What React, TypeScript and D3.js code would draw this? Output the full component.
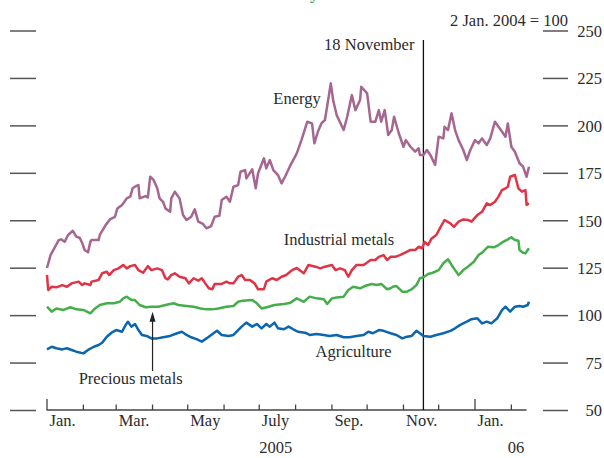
import React from "react";
import * as d3 from "d3";

// Data: [days since 1 Jan 2005, index (2 Jan 2004 = 100)]
const energy: [number, number][] = [
  [0,125.1],[3,131.9],[10,139.8],[12,140.2],[15,138.9],[18,142.5],[22,144.7],[25,141.6],[28,140.9],[30,138.3],[32,134.6],[35,133.4],[37,139],[38,139.8],[44,139.8],[45,142.5],[50,147.7],[54,150.9],[58,152.1],[60,156.5],[64,158.3],[66,160],[68,161.8],[71,162.7],[73,167.1],[76,168.3],[78,168.8],[79,161.8],[84,163],[86,162.3],[88,173.2],[91,171.4],[94,167.1],[96,161.8],[99,160],[101,156.5],[105,154.7],[106,161.8],[109,165.3],[113,161.8],[116,153],[119,150.4],[123,152.1],[126,156],[129,149.5],[133,148.3],[136,146],[140,147.2],[143,152.1],[147,152.6],[149,160.9],[153,162.6],[156,160],[159,167.9],[163,168.8],[165,175.8],[169,176.7],[170,172.3],[175,177.1],[178,167.1],[180,175],[185,182.9],[187,177.6],[190,182],[193,176.7],[197,174.1],[200,169.7],[203,173.2],[207,178.5],[213,185.5],[217,192.5],[222,202.2],[226,201.3],[228,190.8],[231,196.9],[234,201.3],[237,203.1],[240,214.5],[242,222.4],[244,213.6],[247,205.7],[253,197.8],[256,204.8],[260,216.2],[263,208.3],[267,213.6],[268,220.6],[273,217.1],[276,202.2],[280,202.2],[283,208.3],[285,202.2],[288,208.3],[291,195.2],[294,197.8],[296,204.8],[300,196.1],[304,189],[306,192.5],[310,189],[314,186.4],[317,188.2],[318,184.6],[321,184.6],[324,187.3],[327,184.6],[331,179.4],[334,194.3],[338,193.4],[339,199.5],[342,197.8],[345,206.6],[348,197.8],[351,192.5],[355,187.3],[358,182],[361,187.3],[365,192.5],[368,190.8],[371,193.4],[375,189.9],[378,193.4],[382,202.2],[386,198.7],[391,194.3],[393,201.3],[396,189],[399,186.4],[403,180.3],[406,178.5],[409,173.2],[411,178.5],
];

const industrialMetals: [number, number][] = [
  [0,121.5],[1,113.5],[4,115.2],[8,114.9],[13,116.1],[17,115.2],[21,117],[27,117.9],[30,116.1],[32,117],[37,116.1],[38,117.9],[44,118.8],[47,122.3],[51,123.1],[53,121.4],[57,124],[61,124.9],[65,126.7],[68,124.9],[71,126.1],[75,126.7],[78,124],[82,122.6],[86,126.1],[89,124],[94,124.9],[98,124],[101,119.7],[103,119.1],[106,121.4],[109,122.3],[113,120.5],[118,119.7],[121,117],[125,119.7],[129,118.4],[132,119.7],[135,117],[138,114.4],[141,113.9],[143,116.7],[149,116.7],[153,117.9],[156,117],[159,117],[163,120.5],[166,121.4],[169,118.8],[173,118.8],[177,117],[180,113.9],[185,113.9],[187,117.9],[192,119.7],[196,118.8],[200,120.5],[204,121.4],[209,124],[213,125.1],[219,122.3],[223,126.7],[229,125.8],[233,124.9],[237,125.8],[243,126.7],[246,124],[250,124.9],[254,124],[257,120.5],[260,124],[264,126.7],[270,126.7],[276,129.3],[280,129.3],[283,131],[287,131.9],[290,129.3],[293,131],[297,131],[301,131.9],[305,133.1],[310,134.6],[314,134.6],[317,136.3],[320,135.5],[322,138.9],[325,137.2],[328,140.7],[332,142.5],[335,146],[339,150.4],[344,148.6],[347,146.8],[351,149.5],[355,150.7],[359,150.4],[362,149.5],[367,153],[371,154.7],[375,159.2],[378,158.3],[382,160],[385,162.7],[388,166.2],[391,167.1],[393,167.9],[395,173.2],[399,174.1],[402,167.1],[405,165.3],[408,166.2],[409,158.3],[411,159.2],
];

const preciousMetals: [number, number][] = [
  [0,104.7],[4,102.1],[8,103.8],[14,103],[20,104.4],[25,103.3],[31,103],[37,101.2],[41,103.8],[45,105.6],[51,106.5],[57,106.5],[62,107.3],[65,109.1],[68,110],[72,108.2],[75,108.2],[79,105.6],[84,104.4],[89,104.7],[95,104.7],[101,105.6],[108,106.5],[112,105.6],[119,105.1],[125,104.7],[131,103.8],[136,103.3],[141,103.3],[146,103.8],[153,104.7],[159,105.1],[163,107.3],[167,107.9],[175,108.2],[179,106.5],[183,103.8],[189,104.7],[194,105.6],[202,106.1],[207,106.6],[213,109.1],[219,107.3],[224,110],[230,109.1],[236,108.6],[239,106.1],[243,109.1],[247,109.6],[253,110],[257,113.5],[261,115.2],[267,114.4],[271,115.6],[277,116.7],[281,116.1],[285,116.7],[290,113.9],[293,114.4],[295,115.2],[298,115.6],[303,112.6],[307,112.6],[311,113.9],[315,116.1],[318,119.7],[321,120.2],[325,121.9],[329,122.6],[334,124],[338,127.6],[342,129.7],[345,126.7],[348,124],[351,121.4],[355,124],[359,125.8],[364,128.4],[368,131.9],[372,133.7],[376,136.3],[381,136],[385,137.2],[389,138.9],[393,140.2],[396,141.3],[399,139.8],[402,139.5],[403,134.6],[406,133.1],[408,132.8],[411,135.5],
];

const agriculture: [number, number][] = [
  [0,82.2],[4,83.6],[8,82.8],[13,82.2],[17,82.8],[21,81.9],[25,81],[31,80.1],[35,81.9],[40,83.6],[44,84.5],[47,85.7],[51,88.9],[55,91],[59,92.4],[64,91.5],[67,95],[69,96.8],[72,94.2],[75,95.6],[78,92.4],[81,89.8],[85,89.3],[89,88],[94,88],[99,88.6],[105,89.3],[111,90.7],[115,91.5],[119,89.8],[123,88.6],[128,87.5],[132,86.3],[136,88],[142,90.7],[145,92],[149,89.8],[155,89.3],[159,89.8],[163,92.4],[166,94.2],[170,96.3],[175,94.2],[179,95.6],[183,93.3],[187,95.6],[190,94.2],[194,96.3],[197,93.3],[202,92.8],[206,94.2],[210,92.8],[214,91.5],[220,91],[224,89.8],[230,90.3],[236,89.8],[241,89.3],[247,89.8],[253,88.6],[258,88.6],[264,89.3],[270,89.8],[274,91.5],[278,90.7],[283,92.4],[287,92],[293,90.7],[298,89.8],[303,88],[307,88.9],[311,89.3],[315,92],[318,90.7],[321,89.3],[327,88.9],[332,89.8],[338,90.7],[344,92],[348,93.3],[352,95],[358,96.8],[362,98.1],[367,98.6],[371,95.9],[375,96.8],[379,95.9],[384,98.6],[388,102.9],[391,104.7],[395,102.1],[399,104.7],[403,105.1],[406,104.7],[410,105.6],[411,107.3],
];

const yTicks = [50, 75, 100, 125, 150, 175, 200, 225, 250];
const monthLabels = ["Jan.", "", "Mar.", "", "May", "", "July", "", "Sep.", "", "Nov.", "", "Jan.", ""];
const yearLabels: [string, number][] = [["2005", 195], ["06", 400]];
const baseLabel = "2 Jan. 2004 = 100";
const eventLabel = "18 November";
const eventDate = new Date(2005, 10, 18);

const COLORS = {
  energy: "#a5668f",
  industrial: "#df3446",
  precious: "#45ae4b",
  agriculture: "#0b66ad",
};

const FONT = "'Liberation Serif', 'Times New Roman', serif";
const FS = 16.5;
const TEXT = "#2b2b2b";
const TICK = "#555";

const W = 604, H = 458;
const base = new Date(2005, 0, 1);
const day = (d: number) => d3.timeDay.offset(base, d);

export default function App() {
  const x = d3.scaleTime().domain([base, new Date(2006, 0, 1)]).range([47, 475]);
  const y = d3.scaleLinear().domain([50, 250]).range([410.5, 31]);
  const axisEnd = new Date(2006, 1, 14);
  const months = d3.timeMonth.range(base, new Date(2006, 2, 1));
  const line = d3.line<[number, number]>().x(d => x(day(d[0]))).y(d => y(d[1]));

  const series = [
    { data: agriculture, color: COLORS.agriculture },
    { data: preciousMetals, color: COLORS.precious },
    { data: industrialMetals, color: COLORS.industrial },
    { data: energy, color: COLORS.energy },
  ];

  const labels = [
    { text: "Energy", d: 193, v: 211.5 },
    { text: "Industrial metals", d: 202, v: 137.2 },
    { text: "Agriculture", d: 229, v: 78.3 },
    { text: "Precious metals", d: 27, v: 64 },
  ];

  const axisY = y(50) - 0.5;
  const arrowX = x(day(90));

  return (
    <svg width={W} height={H} style={{ position: "absolute", left: 0, top: 0, background: "#fff" }} fontFamily={FONT}>
      {/* cut-off title fragment */}
      <text x={310} y={-1} fontSize={18} fontWeight="bold" fill={COLORS.precious}>y</text>

      {/* left ticks */}
      {yTicks.map(t => (
        <line key={"l" + t} x1={10} x2={36} y1={y(t)} y2={y(t)} stroke={TICK} strokeWidth={1.5} />
      ))}
      {/* right ticks and labels */}
      {yTicks.map(t => (
        <g key={"r" + t}>
          <line x1={543} x2={568} y1={y(t)} y2={y(t)} stroke={TICK} strokeWidth={1.5} />
          <text x={602} y={y(t)} dy="0.35em" textAnchor="end" fontSize={FS} fill={TEXT}>{t}</text>
        </g>
      ))}
      <text x={568} y={26} textAnchor="end" fontSize={FS} fill={TEXT}>{baseLabel}</text>

      {/* x axis */}
      <line x1={x(base) - 0.5} x2={x(axisEnd)} y1={axisY} y2={axisY} stroke="#444" strokeWidth={1.3} />
      {months.map((m, i) => {
        const isJan = m.getMonth() === 0;
        return (
          <g key={"m" + i}>
            <line x1={x(m)} x2={x(m)} y1={axisY} y2={axisY - (isJan ? 11 : 5.5)} stroke="#444" strokeWidth={1.3} />
            {monthLabels[i] && (
              <text x={x(m) + 2.5} y={426} fontSize={FS} fill={TEXT}>{monthLabels[i]}</text>
            )}
          </g>
        );
      })}
      {yearLabels.map(([t, d]) => (
        <text key={t} x={x(day(d))} y={453} textAnchor="middle" fontSize={FS} fill={TEXT}>{t}</text>
      ))}

      {/* event line */}
      <line x1={x(eventDate)} x2={x(eventDate)} y1={y(245.3)} y2={axisY} stroke="#111" strokeWidth={1.3} />
      <text x={x(eventDate) - 9} y={50} textAnchor="end" fontSize={FS} fill={TEXT}>{eventLabel}</text>

      {/* series */}
      {series.map((s, i) => (
        <path key={i} d={line(s.data) || ""} fill="none" stroke={s.color} strokeWidth={2.5} strokeLinejoin="round" />
      ))}

      {/* labels */}
      {labels.map(l => (
        <text key={l.text} x={x(day(l.d))} y={y(l.v)} fontSize={FS} fill={TEXT}>{l.text}</text>
      ))}

      {/* arrow */}
      <line x1={arrowX} x2={arrowX} y1={y(70.8)} y2={y(100.5)} stroke="#222" strokeWidth={1.2} />
      <path d={`M${arrowX},${y(102.1)} L${arrowX - 3},${y(96.8)} L${arrowX + 3},${y(96.8)} Z`} fill="#222" />
    </svg>
  );
}
